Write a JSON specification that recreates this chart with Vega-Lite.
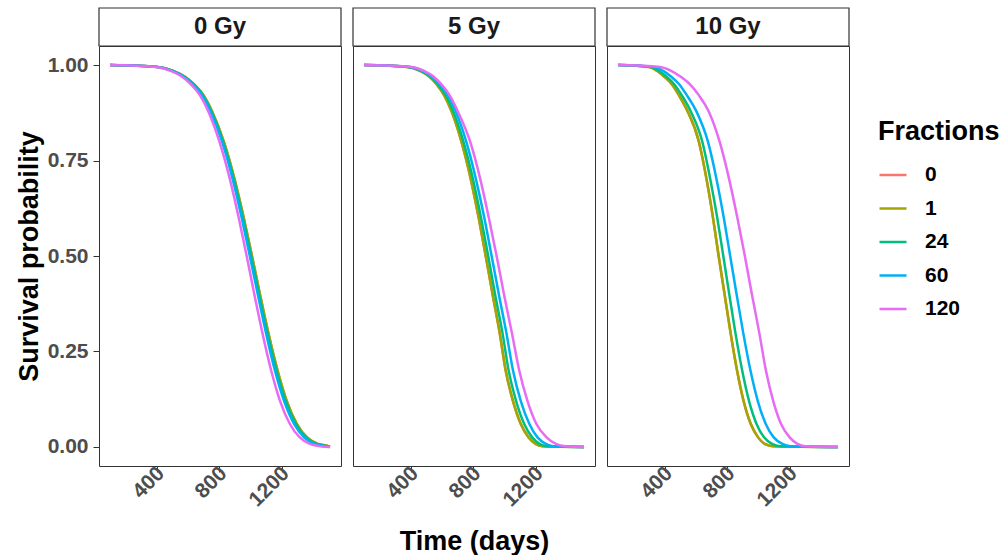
{
"$schema": "https://vega.github.io/schema/vega-lite/v6.json",
"background": "white",
"padding": {"left": 14, "top": 7, "right": 0, "bottom": 0},
"config": {
  "font": "Liberation Sans",
  "view": {"stroke": "#333333", "strokeWidth": 1, "fill": "white"},
  "axis": {"grid": false, "domain": false, "tickColor": "#333333", "tickSize": 6, "labelFont": "Liberation Sans", "labelFontWeight": "bold", "labelColor": "#4D4D4D", "labelFontSize": 21, "labelPadding": 5, "titleFont": "Liberation Sans", "titleFontSize": 27, "titleFontWeight": "bold", "titleColor": "black"},
  "legend": {"orient": "none", "legendX": 779, "legendY": 111, "symbolType": "stroke", "symbolStrokeWidth": 2.5, "symbolSize": 729, "labelFont": "Liberation Sans", "labelFontSize": 21, "labelFontWeight": "bold", "labelColor": "black", "labelOffset": 17, "titleFont": "Liberation Sans", "titleFontSize": 27, "titleFontWeight": "bold", "titleColor": "black", "titlePadding": 14, "rowPadding": 8.5}
},
"datasets": {
  "strips": [{"dose": "0 Gy"}, {"dose": "5 Gy"}, {"dose": "10 Gy"}],
  "surv": [
{"dose":"0 Gy","fr":"0","t":100,"s":1},{"dose":"0 Gy","fr":"0","t":406,"s":0.995},{"dose":"0 Gy","fr":"0","t":505,"s":0.985},{"dose":"0 Gy","fr":"0","t":578,"s":0.97},{"dose":"0 Gy","fr":"0","t":638,"s":0.95},{"dose":"0 Gy","fr":"0","t":701,"s":0.92},{"dose":"0 Gy","fr":"0","t":753,"s":0.88},{"dose":"0 Gy","fr":"0","t":829,"s":0.8},{"dose":"0 Gy","fr":"0","t":899,"s":0.7},{"dose":"0 Gy","fr":"0","t":957,"s":0.6},{"dose":"0 Gy","fr":"0","t":1010,"s":0.5},{"dose":"0 Gy","fr":"0","t":1061,"s":0.4},{"dose":"0 Gy","fr":"0","t":1114,"s":0.3},{"dose":"0 Gy","fr":"0","t":1174,"s":0.2},{"dose":"0 Gy","fr":"0","t":1233,"s":0.12},{"dose":"0 Gy","fr":"0","t":1298,"s":0.06},{"dose":"0 Gy","fr":"0","t":1363,"s":0.025},{"dose":"0 Gy","fr":"0","t":1432,"s":0.008},{"dose":"0 Gy","fr":"0","t":1499,"s":0.002},{"dose":"0 Gy","fr":"0","t":1510,"s":0},
{"dose":"0 Gy","fr":"1","t":100,"s":1},{"dose":"0 Gy","fr":"1","t":406,"s":0.995},{"dose":"0 Gy","fr":"1","t":505,"s":0.985},{"dose":"0 Gy","fr":"1","t":578,"s":0.97},{"dose":"0 Gy","fr":"1","t":638,"s":0.95},{"dose":"0 Gy","fr":"1","t":701,"s":0.92},{"dose":"0 Gy","fr":"1","t":753,"s":0.88},{"dose":"0 Gy","fr":"1","t":829,"s":0.8},{"dose":"0 Gy","fr":"1","t":899,"s":0.7},{"dose":"0 Gy","fr":"1","t":957,"s":0.6},{"dose":"0 Gy","fr":"1","t":1010,"s":0.5},{"dose":"0 Gy","fr":"1","t":1061,"s":0.4},{"dose":"0 Gy","fr":"1","t":1114,"s":0.3},{"dose":"0 Gy","fr":"1","t":1174,"s":0.2},{"dose":"0 Gy","fr":"1","t":1233,"s":0.12},{"dose":"0 Gy","fr":"1","t":1298,"s":0.06},{"dose":"0 Gy","fr":"1","t":1363,"s":0.025},{"dose":"0 Gy","fr":"1","t":1432,"s":0.008},{"dose":"0 Gy","fr":"1","t":1499,"s":0.002},{"dose":"0 Gy","fr":"1","t":1510,"s":0},
{"dose":"0 Gy","fr":"24","t":100,"s":1},{"dose":"0 Gy","fr":"24","t":404,"s":0.995},{"dose":"0 Gy","fr":"24","t":502,"s":0.985},{"dose":"0 Gy","fr":"24","t":575,"s":0.97},{"dose":"0 Gy","fr":"24","t":635,"s":0.95},{"dose":"0 Gy","fr":"24","t":697,"s":0.92},{"dose":"0 Gy","fr":"24","t":749,"s":0.88},{"dose":"0 Gy","fr":"24","t":824,"s":0.8},{"dose":"0 Gy","fr":"24","t":894,"s":0.7},{"dose":"0 Gy","fr":"24","t":952,"s":0.6},{"dose":"0 Gy","fr":"24","t":1005,"s":0.5},{"dose":"0 Gy","fr":"24","t":1055,"s":0.4},{"dose":"0 Gy","fr":"24","t":1108,"s":0.3},{"dose":"0 Gy","fr":"24","t":1167,"s":0.2},{"dose":"0 Gy","fr":"24","t":1226,"s":0.12},{"dose":"0 Gy","fr":"24","t":1291,"s":0.06},{"dose":"0 Gy","fr":"24","t":1356,"s":0.025},{"dose":"0 Gy","fr":"24","t":1424,"s":0.008},{"dose":"0 Gy","fr":"24","t":1491,"s":0.002},{"dose":"0 Gy","fr":"24","t":1510,"s":0},
{"dose":"0 Gy","fr":"60","t":100,"s":1},{"dose":"0 Gy","fr":"60","t":401,"s":0.995},{"dose":"0 Gy","fr":"60","t":498,"s":0.985},{"dose":"0 Gy","fr":"60","t":571,"s":0.97},{"dose":"0 Gy","fr":"60","t":630,"s":0.95},{"dose":"0 Gy","fr":"60","t":692,"s":0.92},{"dose":"0 Gy","fr":"60","t":743,"s":0.88},{"dose":"0 Gy","fr":"60","t":818,"s":0.8},{"dose":"0 Gy","fr":"60","t":887,"s":0.7},{"dose":"0 Gy","fr":"60","t":944,"s":0.6},{"dose":"0 Gy","fr":"60","t":996,"s":0.5},{"dose":"0 Gy","fr":"60","t":1047,"s":0.4},{"dose":"0 Gy","fr":"60","t":1099,"s":0.3},{"dose":"0 Gy","fr":"60","t":1157,"s":0.2},{"dose":"0 Gy","fr":"60","t":1216,"s":0.12},{"dose":"0 Gy","fr":"60","t":1280,"s":0.06},{"dose":"0 Gy","fr":"60","t":1344,"s":0.025},{"dose":"0 Gy","fr":"60","t":1411,"s":0.008},{"dose":"0 Gy","fr":"60","t":1478,"s":0.002},{"dose":"0 Gy","fr":"60","t":1510,"s":0},
{"dose":"0 Gy","fr":"120","t":100,"s":1},{"dose":"0 Gy","fr":"120","t":393,"s":0.995},{"dose":"0 Gy","fr":"120","t":489,"s":0.985},{"dose":"0 Gy","fr":"120","t":560,"s":0.97},{"dose":"0 Gy","fr":"120","t":618,"s":0.95},{"dose":"0 Gy","fr":"120","t":678,"s":0.92},{"dose":"0 Gy","fr":"120","t":729,"s":0.88},{"dose":"0 Gy","fr":"120","t":801,"s":0.8},{"dose":"0 Gy","fr":"120","t":869,"s":0.7},{"dose":"0 Gy","fr":"120","t":925,"s":0.6},{"dose":"0 Gy","fr":"120","t":976,"s":0.5},{"dose":"0 Gy","fr":"120","t":1025,"s":0.4},{"dose":"0 Gy","fr":"120","t":1076,"s":0.3},{"dose":"0 Gy","fr":"120","t":1133,"s":0.2},{"dose":"0 Gy","fr":"120","t":1190,"s":0.12},{"dose":"0 Gy","fr":"120","t":1253,"s":0.06},{"dose":"0 Gy","fr":"120","t":1316,"s":0.025},{"dose":"0 Gy","fr":"120","t":1381,"s":0.008},{"dose":"0 Gy","fr":"120","t":1446,"s":0.002},{"dose":"0 Gy","fr":"120","t":1510,"s":0},
{"dose":"5 Gy","fr":"0","t":100,"s":1},{"dose":"5 Gy","fr":"0","t":380,"s":0.995},{"dose":"5 Gy","fr":"0","t":460,"s":0.985},{"dose":"5 Gy","fr":"0","t":518,"s":0.97},{"dose":"5 Gy","fr":"0","t":565,"s":0.95},{"dose":"5 Gy","fr":"0","t":615,"s":0.92},{"dose":"5 Gy","fr":"0","t":660,"s":0.88},{"dose":"5 Gy","fr":"0","t":724,"s":0.8},{"dose":"5 Gy","fr":"0","t":785,"s":0.7},{"dose":"5 Gy","fr":"0","t":835,"s":0.6},{"dose":"5 Gy","fr":"0","t":880,"s":0.5},{"dose":"5 Gy","fr":"0","t":924,"s":0.4},{"dose":"5 Gy","fr":"0","t":969,"s":0.3},{"dose":"5 Gy","fr":"0","t":1008,"s":0.2},{"dose":"5 Gy","fr":"0","t":1055,"s":0.12},{"dose":"5 Gy","fr":"0","t":1105,"s":0.06},{"dose":"5 Gy","fr":"0","t":1155,"s":0.025},{"dose":"5 Gy","fr":"0","t":1200,"s":0.008},{"dose":"5 Gy","fr":"0","t":1245,"s":0.002},{"dose":"5 Gy","fr":"0","t":1510,"s":0},
{"dose":"5 Gy","fr":"1","t":100,"s":1},{"dose":"5 Gy","fr":"1","t":380,"s":0.995},{"dose":"5 Gy","fr":"1","t":460,"s":0.985},{"dose":"5 Gy","fr":"1","t":518,"s":0.97},{"dose":"5 Gy","fr":"1","t":565,"s":0.95},{"dose":"5 Gy","fr":"1","t":615,"s":0.92},{"dose":"5 Gy","fr":"1","t":660,"s":0.88},{"dose":"5 Gy","fr":"1","t":724,"s":0.8},{"dose":"5 Gy","fr":"1","t":785,"s":0.7},{"dose":"5 Gy","fr":"1","t":835,"s":0.6},{"dose":"5 Gy","fr":"1","t":880,"s":0.5},{"dose":"5 Gy","fr":"1","t":924,"s":0.4},{"dose":"5 Gy","fr":"1","t":969,"s":0.3},{"dose":"5 Gy","fr":"1","t":1008,"s":0.2},{"dose":"5 Gy","fr":"1","t":1055,"s":0.12},{"dose":"5 Gy","fr":"1","t":1105,"s":0.06},{"dose":"5 Gy","fr":"1","t":1155,"s":0.025},{"dose":"5 Gy","fr":"1","t":1200,"s":0.008},{"dose":"5 Gy","fr":"1","t":1245,"s":0.002},{"dose":"5 Gy","fr":"1","t":1510,"s":0},
{"dose":"5 Gy","fr":"24","t":100,"s":1},{"dose":"5 Gy","fr":"24","t":385,"s":0.995},{"dose":"5 Gy","fr":"24","t":465,"s":0.985},{"dose":"5 Gy","fr":"24","t":525,"s":0.97},{"dose":"5 Gy","fr":"24","t":573,"s":0.95},{"dose":"5 Gy","fr":"24","t":625,"s":0.92},{"dose":"5 Gy","fr":"24","t":671,"s":0.88},{"dose":"5 Gy","fr":"24","t":737,"s":0.8},{"dose":"5 Gy","fr":"24","t":799,"s":0.7},{"dose":"5 Gy","fr":"24","t":850,"s":0.6},{"dose":"5 Gy","fr":"24","t":896,"s":0.5},{"dose":"5 Gy","fr":"24","t":940,"s":0.4},{"dose":"5 Gy","fr":"24","t":987,"s":0.3},{"dose":"5 Gy","fr":"24","t":1027,"s":0.2},{"dose":"5 Gy","fr":"24","t":1075,"s":0.12},{"dose":"5 Gy","fr":"24","t":1127,"s":0.06},{"dose":"5 Gy","fr":"24","t":1178,"s":0.025},{"dose":"5 Gy","fr":"24","t":1225,"s":0.008},{"dose":"5 Gy","fr":"24","t":1272,"s":0.002},{"dose":"5 Gy","fr":"24","t":1510,"s":0},
{"dose":"5 Gy","fr":"60","t":100,"s":1},{"dose":"5 Gy","fr":"60","t":395,"s":0.995},{"dose":"5 Gy","fr":"60","t":475,"s":0.985},{"dose":"5 Gy","fr":"60","t":535,"s":0.97},{"dose":"5 Gy","fr":"60","t":583,"s":0.95},{"dose":"5 Gy","fr":"60","t":640,"s":0.92},{"dose":"5 Gy","fr":"60","t":687,"s":0.88},{"dose":"5 Gy","fr":"60","t":755,"s":0.8},{"dose":"5 Gy","fr":"60","t":818,"s":0.7},{"dose":"5 Gy","fr":"60","t":871,"s":0.6},{"dose":"5 Gy","fr":"60","t":918,"s":0.5},{"dose":"5 Gy","fr":"60","t":964,"s":0.4},{"dose":"5 Gy","fr":"60","t":1012,"s":0.3},{"dose":"5 Gy","fr":"60","t":1055,"s":0.2},{"dose":"5 Gy","fr":"60","t":1105,"s":0.12},{"dose":"5 Gy","fr":"60","t":1160,"s":0.06},{"dose":"5 Gy","fr":"60","t":1212,"s":0.025},{"dose":"5 Gy","fr":"60","t":1265,"s":0.008},{"dose":"5 Gy","fr":"60","t":1315,"s":0.002},{"dose":"5 Gy","fr":"60","t":1510,"s":0},
{"dose":"5 Gy","fr":"120","t":100,"s":1},{"dose":"5 Gy","fr":"120","t":405,"s":0.995},{"dose":"5 Gy","fr":"120","t":485,"s":0.985},{"dose":"5 Gy","fr":"120","t":545,"s":0.97},{"dose":"5 Gy","fr":"120","t":595,"s":0.95},{"dose":"5 Gy","fr":"120","t":650,"s":0.92},{"dose":"5 Gy","fr":"120","t":700,"s":0.88},{"dose":"5 Gy","fr":"120","t":780,"s":0.8},{"dose":"5 Gy","fr":"120","t":846,"s":0.7},{"dose":"5 Gy","fr":"120","t":900,"s":0.6},{"dose":"5 Gy","fr":"120","t":950,"s":0.5},{"dose":"5 Gy","fr":"120","t":997,"s":0.4},{"dose":"5 Gy","fr":"120","t":1047,"s":0.3},{"dose":"5 Gy","fr":"120","t":1095,"s":0.2},{"dose":"5 Gy","fr":"120","t":1148,"s":0.12},{"dose":"5 Gy","fr":"120","t":1205,"s":0.06},{"dose":"5 Gy","fr":"120","t":1270,"s":0.025},{"dose":"5 Gy","fr":"120","t":1330,"s":0.008},{"dose":"5 Gy","fr":"120","t":1390,"s":0.002},{"dose":"5 Gy","fr":"120","t":1510,"s":0},
{"dose":"10 Gy","fr":"0","t":100,"s":1},{"dose":"10 Gy","fr":"0","t":300,"s":0.995},{"dose":"10 Gy","fr":"0","t":350,"s":0.985},{"dose":"10 Gy","fr":"0","t":395,"s":0.97},{"dose":"10 Gy","fr":"0","t":445,"s":0.95},{"dose":"10 Gy","fr":"0","t":492,"s":0.92},{"dose":"10 Gy","fr":"0","t":545,"s":0.88},{"dose":"10 Gy","fr":"0","t":618,"s":0.8},{"dose":"10 Gy","fr":"0","t":668,"s":0.7},{"dose":"10 Gy","fr":"0","t":709,"s":0.6},{"dose":"10 Gy","fr":"0","t":745,"s":0.5},{"dose":"10 Gy","fr":"0","t":783,"s":0.4},{"dose":"10 Gy","fr":"0","t":821,"s":0.3},{"dose":"10 Gy","fr":"0","t":863,"s":0.2},{"dose":"10 Gy","fr":"0","t":905,"s":0.12},{"dose":"10 Gy","fr":"0","t":951,"s":0.06},{"dose":"10 Gy","fr":"0","t":998,"s":0.025},{"dose":"10 Gy","fr":"0","t":1040,"s":0.008},{"dose":"10 Gy","fr":"0","t":1094,"s":0.002},{"dose":"10 Gy","fr":"0","t":1510,"s":0},
{"dose":"10 Gy","fr":"1","t":100,"s":1},{"dose":"10 Gy","fr":"1","t":300,"s":0.995},{"dose":"10 Gy","fr":"1","t":350,"s":0.985},{"dose":"10 Gy","fr":"1","t":395,"s":0.97},{"dose":"10 Gy","fr":"1","t":445,"s":0.95},{"dose":"10 Gy","fr":"1","t":492,"s":0.92},{"dose":"10 Gy","fr":"1","t":545,"s":0.88},{"dose":"10 Gy","fr":"1","t":618,"s":0.8},{"dose":"10 Gy","fr":"1","t":668,"s":0.7},{"dose":"10 Gy","fr":"1","t":709,"s":0.6},{"dose":"10 Gy","fr":"1","t":745,"s":0.5},{"dose":"10 Gy","fr":"1","t":783,"s":0.4},{"dose":"10 Gy","fr":"1","t":821,"s":0.3},{"dose":"10 Gy","fr":"1","t":863,"s":0.2},{"dose":"10 Gy","fr":"1","t":905,"s":0.12},{"dose":"10 Gy","fr":"1","t":951,"s":0.06},{"dose":"10 Gy","fr":"1","t":998,"s":0.025},{"dose":"10 Gy","fr":"1","t":1040,"s":0.008},{"dose":"10 Gy","fr":"1","t":1094,"s":0.002},{"dose":"10 Gy","fr":"1","t":1510,"s":0},
{"dose":"10 Gy","fr":"24","t":100,"s":1},{"dose":"10 Gy","fr":"24","t":310,"s":0.995},{"dose":"10 Gy","fr":"24","t":362,"s":0.985},{"dose":"10 Gy","fr":"24","t":410,"s":0.97},{"dose":"10 Gy","fr":"24","t":460,"s":0.95},{"dose":"10 Gy","fr":"24","t":510,"s":0.92},{"dose":"10 Gy","fr":"24","t":565,"s":0.88},{"dose":"10 Gy","fr":"24","t":640,"s":0.8},{"dose":"10 Gy","fr":"24","t":692,"s":0.7},{"dose":"10 Gy","fr":"24","t":736,"s":0.6},{"dose":"10 Gy","fr":"24","t":775,"s":0.5},{"dose":"10 Gy","fr":"24","t":813,"s":0.4},{"dose":"10 Gy","fr":"24","t":852,"s":0.3},{"dose":"10 Gy","fr":"24","t":896,"s":0.2},{"dose":"10 Gy","fr":"24","t":940,"s":0.12},{"dose":"10 Gy","fr":"24","t":988,"s":0.06},{"dose":"10 Gy","fr":"24","t":1036,"s":0.025},{"dose":"10 Gy","fr":"24","t":1087,"s":0.008},{"dose":"10 Gy","fr":"24","t":1137,"s":0.002},{"dose":"10 Gy","fr":"24","t":1510,"s":0},
{"dose":"10 Gy","fr":"60","t":100,"s":1},{"dose":"10 Gy","fr":"60","t":329,"s":0.995},{"dose":"10 Gy","fr":"60","t":390,"s":0.985},{"dose":"10 Gy","fr":"60","t":440,"s":0.97},{"dose":"10 Gy","fr":"60","t":492,"s":0.95},{"dose":"10 Gy","fr":"60","t":543,"s":0.92},{"dose":"10 Gy","fr":"60","t":601,"s":0.88},{"dose":"10 Gy","fr":"60","t":676,"s":0.8},{"dose":"10 Gy","fr":"60","t":732,"s":0.7},{"dose":"10 Gy","fr":"60","t":778,"s":0.6},{"dose":"10 Gy","fr":"60","t":819,"s":0.5},{"dose":"10 Gy","fr":"60","t":860,"s":0.4},{"dose":"10 Gy","fr":"60","t":902,"s":0.3},{"dose":"10 Gy","fr":"60","t":949,"s":0.2},{"dose":"10 Gy","fr":"60","t":996,"s":0.12},{"dose":"10 Gy","fr":"60","t":1047,"s":0.06},{"dose":"10 Gy","fr":"60","t":1098,"s":0.025},{"dose":"10 Gy","fr":"60","t":1153,"s":0.008},{"dose":"10 Gy","fr":"60","t":1206,"s":0.002},{"dose":"10 Gy","fr":"60","t":1510,"s":0},
{"dose":"10 Gy","fr":"120","t":100,"s":1},{"dose":"10 Gy","fr":"120","t":370,"s":0.995},{"dose":"10 Gy","fr":"120","t":440,"s":0.985},{"dose":"10 Gy","fr":"120","t":500,"s":0.97},{"dose":"10 Gy","fr":"120","t":560,"s":0.95},{"dose":"10 Gy","fr":"120","t":620,"s":0.92},{"dose":"10 Gy","fr":"120","t":680,"s":0.88},{"dose":"10 Gy","fr":"120","t":751,"s":0.8},{"dose":"10 Gy","fr":"120","t":813,"s":0.7},{"dose":"10 Gy","fr":"120","t":865,"s":0.6},{"dose":"10 Gy","fr":"120","t":913,"s":0.5},{"dose":"10 Gy","fr":"120","t":958,"s":0.4},{"dose":"10 Gy","fr":"120","t":1005,"s":0.3},{"dose":"10 Gy","fr":"120","t":1048,"s":0.2},{"dose":"10 Gy","fr":"120","t":1095,"s":0.12},{"dose":"10 Gy","fr":"120","t":1145,"s":0.06},{"dose":"10 Gy","fr":"120","t":1200,"s":0.025},{"dose":"10 Gy","fr":"120","t":1250,"s":0.008},{"dose":"10 Gy","fr":"120","t":1300,"s":0.002},{"dose":"10 Gy","fr":"120","t":1510,"s":0}
  ]
},
"spacing": 10,
"hconcat": [
  {"bounds": "flush", "spacing": 0, "vconcat": [
    {"width": 242, "height": 38, "data": {"name": "strips"}, "transform": [{"filter": "datum.dose === '0 Gy'"}],
     "layer": [
       {"mark": {"type": "rect", "fill": "white", "stroke": "#333333", "strokeWidth": 1.2}, "encoding": {}},
       {"mark": {"type": "text", "fontSize": 24, "fontWeight": "bold", "color": "#1A1A1A", "font": "Liberation Sans"}, "encoding": {"text": {"field": "dose"}}}
     ]},
    {"width": 242, "height": 420, "data": {"name": "surv"}, "transform": [{"filter": "datum.dose === '0 Gy'"}],
     "mark": {"type": "line", "interpolate": "monotone", "strokeWidth": 2.5},
     "encoding": {
       "x": {"field": "t", "type": "quantitative", "scale": {"domain": [29.5, 1580.5], "nice": false, "zero": false}, "axis": {"values": [400, 800, 1200], "format": "d", "labelAngle": -45, "labelAlign": "right", "labelBaseline": "middle", "labelOffset": 4, "labelPadding": -2, "title": null}},
       "y": {"field": "s", "type": "quantitative", "scale": {"domain": [-0.05, 1.05], "nice": false, "zero": false}, "axis": {"values": [0, 0.25, 0.5, 0.75, 1], "format": ".2f", "title": "Survival probability", "titlePadding": 4}},
       "color": {"field": "fr", "type": "nominal", "sort": ["0", "1", "24", "60", "120"], "scale": {"domain": ["0", "1", "24", "60", "120"], "range": ["#F8766D", "#A3A500", "#00BF7D", "#00B0F6", "#E76BF3"]}, "legend": {"title": "Fractions"}}
     }}
  ]},
  {"bounds": "flush", "spacing": 0, "vconcat": [
    {"width": 242, "height": 38, "data": {"name": "strips"}, "transform": [{"filter": "datum.dose === '5 Gy'"}],
     "layer": [
       {"mark": {"type": "rect", "fill": "white", "stroke": "#333333", "strokeWidth": 1.2}, "encoding": {}},
       {"mark": {"type": "text", "fontSize": 24, "fontWeight": "bold", "color": "#1A1A1A", "font": "Liberation Sans"}, "encoding": {"text": {"field": "dose"}}}
     ]},
    {"width": 242, "height": 420, "data": {"name": "surv"}, "transform": [{"filter": "datum.dose === '5 Gy'"}],
     "mark": {"type": "line", "interpolate": "monotone", "strokeWidth": 2.5},
     "encoding": {
       "x": {"field": "t", "type": "quantitative", "scale": {"domain": [29.5, 1580.5], "nice": false, "zero": false}, "axis": {"values": [400, 800, 1200], "format": "d", "labelAngle": -45, "labelAlign": "right", "labelBaseline": "middle", "labelOffset": 4, "labelPadding": -2, "title": "Time (days)", "titlePadding": 18}},
       "y": {"field": "s", "type": "quantitative", "scale": {"domain": [-0.05, 1.05], "nice": false, "zero": false}, "axis": null},
       "color": {"field": "fr", "type": "nominal", "sort": ["0", "1", "24", "60", "120"], "scale": {"domain": ["0", "1", "24", "60", "120"], "range": ["#F8766D", "#A3A500", "#00BF7D", "#00B0F6", "#E76BF3"]}, "legend": {"title": "Fractions"}}
     }}
  ]},
  {"bounds": "flush", "spacing": 0, "vconcat": [
    {"width": 242, "height": 38, "data": {"name": "strips"}, "transform": [{"filter": "datum.dose === '10 Gy'"}],
     "layer": [
       {"mark": {"type": "rect", "fill": "white", "stroke": "#333333", "strokeWidth": 1.2}, "encoding": {}},
       {"mark": {"type": "text", "fontSize": 24, "fontWeight": "bold", "color": "#1A1A1A", "font": "Liberation Sans"}, "encoding": {"text": {"field": "dose"}}}
     ]},
    {"width": 242, "height": 420, "data": {"name": "surv"}, "transform": [{"filter": "datum.dose === '10 Gy'"}],
     "mark": {"type": "line", "interpolate": "monotone", "strokeWidth": 2.5},
     "encoding": {
       "x": {"field": "t", "type": "quantitative", "scale": {"domain": [29.5, 1580.5], "nice": false, "zero": false}, "axis": {"values": [400, 800, 1200], "format": "d", "labelAngle": -45, "labelAlign": "right", "labelBaseline": "middle", "labelOffset": 4, "labelPadding": -2, "title": null}},
       "y": {"field": "s", "type": "quantitative", "scale": {"domain": [-0.05, 1.05], "nice": false, "zero": false}, "axis": null},
       "color": {"field": "fr", "type": "nominal", "sort": ["0", "1", "24", "60", "120"], "scale": {"domain": ["0", "1", "24", "60", "120"], "range": ["#F8766D", "#A3A500", "#00BF7D", "#00B0F6", "#E76BF3"]}, "legend": {"title": "Fractions"}}
     }}
  ]}
]
}
